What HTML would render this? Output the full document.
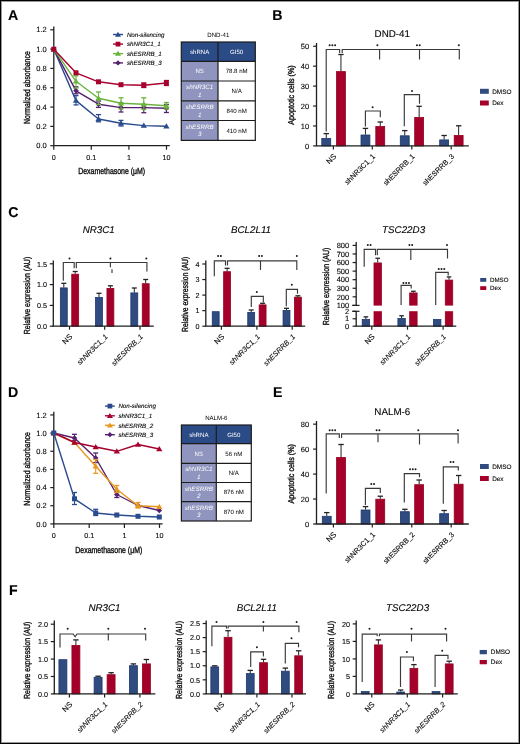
<!DOCTYPE html>
<html><head><meta charset="utf-8"><style>
html,body{margin:0;padding:0;background:#fff;width:520px;height:744px;overflow:hidden}
svg{display:block;will-change:transform}
text{font-family:"Liberation Sans", sans-serif;stroke:#1a1a1a;stroke-width:0.12px;text-rendering:geometricPrecision}
.w{stroke:none}
.at{stroke:#111;stroke-width:0.35px}
</style></head><body>
<svg width="520" height="744" viewBox="0 0 520 744">
<rect x="0" y="0" width="520" height="744" fill="#ffffff"/>
<rect x="1.5" y="1.5" width="517" height="741" fill="none" stroke="#9a9a9a" stroke-width="1"/>
<rect x="0.5" y="0.5" width="519" height="743" fill="none" stroke="#000" stroke-width="1"/>
<text x="7.9" y="19.7" font-size="14.2" font-weight="bold" fill="#000">A</text>
<text x="272.3" y="19.7" font-size="14.2" font-weight="bold" fill="#000">B</text>
<text x="8.2" y="216.8" font-size="14.2" font-weight="bold" fill="#000">C</text>
<text x="8.1" y="396.7" font-size="14.2" font-weight="bold" fill="#000">D</text>
<text x="273.1" y="396.8" font-size="14.2" font-weight="bold" fill="#000">E</text>
<text x="8.9" y="594.6" font-size="14.2" font-weight="bold" fill="#000">F</text>
<line x1="53.8" y1="26.5" x2="53.8" y2="145.7" stroke="#1e1e1e" stroke-width="1.3"/>
<line x1="50.3" y1="145.7" x2="53.8" y2="145.7" stroke="#1e1e1e" stroke-width="1.2"/>
<text x="46.8" y="148.4" font-size="7.5" text-anchor="end">0.0</text>
<line x1="50.3" y1="126.38" x2="53.8" y2="126.38" stroke="#1e1e1e" stroke-width="1.2"/>
<text x="46.8" y="129.08" font-size="7.5" text-anchor="end">0.2</text>
<line x1="50.3" y1="107.06" x2="53.8" y2="107.06" stroke="#1e1e1e" stroke-width="1.2"/>
<text x="46.8" y="109.76" font-size="7.5" text-anchor="end">0.4</text>
<line x1="50.3" y1="87.74" x2="53.8" y2="87.74" stroke="#1e1e1e" stroke-width="1.2"/>
<text x="46.8" y="90.44" font-size="7.5" text-anchor="end">0.6</text>
<line x1="50.3" y1="68.42" x2="53.8" y2="68.42" stroke="#1e1e1e" stroke-width="1.2"/>
<text x="46.8" y="71.12" font-size="7.5" text-anchor="end">0.8</text>
<line x1="50.3" y1="49.1" x2="53.8" y2="49.1" stroke="#1e1e1e" stroke-width="1.2"/>
<text x="46.8" y="51.8" font-size="7.5" text-anchor="end">1.0</text>
<line x1="50.3" y1="29.78" x2="53.8" y2="29.78" stroke="#1e1e1e" stroke-width="1.2"/>
<text x="46.8" y="32.48" font-size="7.5" text-anchor="end">1.2</text>
<line x1="53.2" y1="145.7" x2="169.8" y2="145.7" stroke="#1e1e1e" stroke-width="1.3"/>
<line x1="53.8" y1="145.7" x2="53.8" y2="149.7" stroke="#1e1e1e" stroke-width="1.2"/>
<line x1="91.3" y1="145.7" x2="91.3" y2="149.7" stroke="#1e1e1e" stroke-width="1.2"/>
<line x1="128.9" y1="145.7" x2="128.9" y2="149.7" stroke="#1e1e1e" stroke-width="1.2"/>
<line x1="166.5" y1="145.7" x2="166.5" y2="149.7" stroke="#1e1e1e" stroke-width="1.2"/>
<text x="53.8" y="159.6" font-size="7.2" text-anchor="middle">0</text>
<text x="91.3" y="159.6" font-size="7.2" text-anchor="middle">0.1</text>
<text x="128.9" y="159.6" font-size="7.2" text-anchor="middle">1</text>
<text x="166.5" y="159.6" font-size="7.2" text-anchor="middle">10</text>
<text x="111.7" y="174.4" font-size="8.9" text-anchor="middle" textLength="67" lengthAdjust="spacingAndGlyphs" class="at">Dexamethasone (μM)</text>
<text x="29.9" y="87.6" font-size="8.9" text-anchor="middle" transform="rotate(-90 29.9 87.6)" textLength="72.6" lengthAdjust="spacingAndGlyphs" class="at">Normalized absorbance</text>
<polyline points="53.8,49.2 76,100.6 98.5,119 121,123.2 143.8,125.6 166.4,126.2" fill="none" stroke="#2a4b8e" stroke-width="1.4" stroke-linejoin="round"/>
<line x1="76" y1="95.6" x2="76" y2="104.9" stroke="#2a4b8e" stroke-width="1.1"/>
<line x1="73.5" y1="95.6" x2="78.5" y2="95.6" stroke="#2a4b8e" stroke-width="1.3"/>
<line x1="73.5" y1="104.9" x2="78.5" y2="104.9" stroke="#2a4b8e" stroke-width="1.3"/>
<line x1="98.5" y1="114.6" x2="98.5" y2="121.8" stroke="#2a4b8e" stroke-width="1.1"/>
<line x1="96" y1="114.6" x2="101" y2="114.6" stroke="#2a4b8e" stroke-width="1.3"/>
<line x1="96" y1="121.8" x2="101" y2="121.8" stroke="#2a4b8e" stroke-width="1.3"/>
<line x1="121" y1="120.4" x2="121" y2="126" stroke="#2a4b8e" stroke-width="1.1"/>
<line x1="118.5" y1="120.4" x2="123.5" y2="120.4" stroke="#2a4b8e" stroke-width="1.3"/>
<line x1="118.5" y1="126" x2="123.5" y2="126" stroke="#2a4b8e" stroke-width="1.3"/>
<polygon points="53.8,46.2 50.65,51.45 56.95,51.45" fill="#2a4b8e"/>
<polygon points="76,97.6 72.85,102.85 79.15,102.85" fill="#2a4b8e"/>
<polygon points="98.5,116 95.35,121.25 101.65,121.25" fill="#2a4b8e"/>
<polygon points="121,120.2 117.85,125.45 124.15,125.45" fill="#2a4b8e"/>
<polygon points="143.8,122.6 140.65,127.85 146.95,127.85" fill="#2a4b8e"/>
<polygon points="166.4,123.2 163.25,128.45 169.55,128.45" fill="#2a4b8e"/>
<polyline points="53.8,49.2 76,90.8 98.5,104.2 121,107.6 143.8,107.6 166.4,108.2" fill="none" stroke="#55206e" stroke-width="1.4" stroke-linejoin="round"/>
<line x1="76" y1="86.8" x2="76" y2="93.8" stroke="#55206e" stroke-width="1.1"/>
<line x1="73.5" y1="86.8" x2="78.5" y2="86.8" stroke="#55206e" stroke-width="1.3"/>
<line x1="73.5" y1="93.8" x2="78.5" y2="93.8" stroke="#55206e" stroke-width="1.3"/>
<line x1="98.5" y1="101" x2="98.5" y2="107.4" stroke="#55206e" stroke-width="1.1"/>
<line x1="96" y1="101" x2="101" y2="101" stroke="#55206e" stroke-width="1.3"/>
<line x1="96" y1="107.4" x2="101" y2="107.4" stroke="#55206e" stroke-width="1.3"/>
<line x1="121" y1="103" x2="121" y2="112" stroke="#55206e" stroke-width="1.1"/>
<line x1="118.5" y1="103" x2="123.5" y2="103" stroke="#55206e" stroke-width="1.3"/>
<line x1="118.5" y1="112" x2="123.5" y2="112" stroke="#55206e" stroke-width="1.3"/>
<line x1="143.8" y1="104.5" x2="143.8" y2="112.7" stroke="#55206e" stroke-width="1.1"/>
<line x1="141.3" y1="104.5" x2="146.3" y2="104.5" stroke="#55206e" stroke-width="1.3"/>
<line x1="141.3" y1="112.7" x2="146.3" y2="112.7" stroke="#55206e" stroke-width="1.3"/>
<line x1="166.4" y1="104.5" x2="166.4" y2="112.5" stroke="#55206e" stroke-width="1.1"/>
<line x1="163.9" y1="104.5" x2="168.9" y2="104.5" stroke="#55206e" stroke-width="1.3"/>
<line x1="163.9" y1="112.5" x2="168.9" y2="112.5" stroke="#55206e" stroke-width="1.3"/>
<polygon points="53.8,46.4 56.6,49.2 53.8,52 51,49.2" fill="#55206e"/>
<polygon points="76,88 78.8,90.8 76,93.6 73.2,90.8" fill="#55206e"/>
<polygon points="98.5,101.4 101.3,104.2 98.5,107 95.7,104.2" fill="#55206e"/>
<polygon points="121,104.8 123.8,107.6 121,110.4 118.2,107.6" fill="#55206e"/>
<polygon points="143.8,104.8 146.6,107.6 143.8,110.4 141,107.6" fill="#55206e"/>
<polygon points="166.4,105.4 169.2,108.2 166.4,111 163.6,108.2" fill="#55206e"/>
<polyline points="53.8,49.2 76,81.3 98.5,98.3 121,103.2 143.8,104.2 166.4,105.8" fill="none" stroke="#6ab43e" stroke-width="1.4" stroke-linejoin="round"/>
<line x1="76" y1="75.8" x2="76" y2="88" stroke="#6ab43e" stroke-width="1.1"/>
<line x1="73.5" y1="75.8" x2="78.5" y2="75.8" stroke="#6ab43e" stroke-width="1.3"/>
<line x1="73.5" y1="88" x2="78.5" y2="88" stroke="#6ab43e" stroke-width="1.3"/>
<line x1="98.5" y1="92" x2="98.5" y2="104.5" stroke="#6ab43e" stroke-width="1.1"/>
<line x1="96" y1="92" x2="101" y2="92" stroke="#6ab43e" stroke-width="1.3"/>
<line x1="96" y1="104.5" x2="101" y2="104.5" stroke="#6ab43e" stroke-width="1.3"/>
<line x1="121" y1="97.8" x2="121" y2="109" stroke="#6ab43e" stroke-width="1.1"/>
<line x1="118.5" y1="97.8" x2="123.5" y2="97.8" stroke="#6ab43e" stroke-width="1.3"/>
<line x1="118.5" y1="109" x2="123.5" y2="109" stroke="#6ab43e" stroke-width="1.3"/>
<line x1="143.8" y1="97.8" x2="143.8" y2="109.5" stroke="#6ab43e" stroke-width="1.1"/>
<line x1="141.3" y1="97.8" x2="146.3" y2="97.8" stroke="#6ab43e" stroke-width="1.3"/>
<line x1="141.3" y1="109.5" x2="146.3" y2="109.5" stroke="#6ab43e" stroke-width="1.3"/>
<line x1="166.4" y1="102.5" x2="166.4" y2="109" stroke="#6ab43e" stroke-width="1.1"/>
<line x1="163.9" y1="102.5" x2="168.9" y2="102.5" stroke="#6ab43e" stroke-width="1.3"/>
<line x1="163.9" y1="109" x2="168.9" y2="109" stroke="#6ab43e" stroke-width="1.3"/>
<polygon points="53.8,46.2 50.65,51.45 56.95,51.45" fill="#6ab43e"/>
<polygon points="76,78.3 72.85,83.55 79.15,83.55" fill="#6ab43e"/>
<polygon points="98.5,95.3 95.35,100.55 101.65,100.55" fill="#6ab43e"/>
<polygon points="121,100.2 117.85,105.45 124.15,105.45" fill="#6ab43e"/>
<polygon points="143.8,101.2 140.65,106.45 146.95,106.45" fill="#6ab43e"/>
<polygon points="166.4,102.8 163.25,108.05 169.55,108.05" fill="#6ab43e"/>
<polyline points="53.8,49.2 76,72.8 98.5,81.8 121,84.7 143.8,85.2 166.4,83" fill="none" stroke="#a8002f" stroke-width="1.4" stroke-linejoin="round"/>
<line x1="143.8" y1="83" x2="143.8" y2="87.5" stroke="#a8002f" stroke-width="1.1"/>
<line x1="141.3" y1="83" x2="146.3" y2="83" stroke="#a8002f" stroke-width="1.3"/>
<line x1="141.3" y1="87.5" x2="146.3" y2="87.5" stroke="#a8002f" stroke-width="1.3"/>
<line x1="166.4" y1="80.5" x2="166.4" y2="85.5" stroke="#a8002f" stroke-width="1.1"/>
<line x1="163.9" y1="80.5" x2="168.9" y2="80.5" stroke="#a8002f" stroke-width="1.3"/>
<line x1="163.9" y1="85.5" x2="168.9" y2="85.5" stroke="#a8002f" stroke-width="1.3"/>
<rect x="51.3" y="46.7" width="5" height="5" fill="#a8002f"/>
<rect x="73.5" y="70.3" width="5" height="5" fill="#a8002f"/>
<rect x="96" y="79.3" width="5" height="5" fill="#a8002f"/>
<rect x="118.5" y="82.2" width="5" height="5" fill="#a8002f"/>
<rect x="141.3" y="82.7" width="5" height="5" fill="#a8002f"/>
<rect x="163.9" y="80.5" width="5" height="5" fill="#a8002f"/>
<line x1="113" y1="34.5" x2="123" y2="34.5" stroke="#2a4b8e" stroke-width="1.4"/>
<polygon points="118,31.65 115.01,36.64 120.99,36.64" fill="#2a4b8e"/>
<text x="126.9" y="36.7" font-size="6.2" font-style="italic">Non-silencing</text>
<line x1="113" y1="44.1" x2="123" y2="44.1" stroke="#a8002f" stroke-width="1.4"/>
<rect x="115.62" y="41.73" width="4.75" height="4.75" fill="#a8002f"/>
<text x="126.9" y="46.3" font-size="6.2" font-style="italic">shNR3C1_1</text>
<line x1="113" y1="53.6" x2="123" y2="53.6" stroke="#6ab43e" stroke-width="1.4"/>
<polygon points="118,50.75 115.01,55.74 120.99,55.74" fill="#6ab43e"/>
<text x="126.9" y="55.8" font-size="6.2" font-style="italic">shESRRB_1</text>
<line x1="113" y1="62.9" x2="123" y2="62.9" stroke="#55206e" stroke-width="1.4"/>
<polygon points="118,60.24 120.66,62.9 118,65.56 115.34,62.9" fill="#55206e"/>
<text x="126.9" y="65.1" font-size="6.2" font-style="italic">shESRRB_3</text>
<rect x="181.3" y="42" width="74" height="19.3" fill="#2b4b86"/>
<rect x="181.3" y="61.3" width="36.7" height="19.7" fill="#8f95be"/>
<rect x="181.3" y="81" width="36.7" height="19.8" fill="#8f95be"/>
<rect x="181.3" y="100.8" width="36.7" height="19.7" fill="#8f95be"/>
<rect x="181.3" y="120.5" width="36.7" height="19.9" fill="#8f95be"/>
<rect x="181.3" y="42" width="74" height="98.4" fill="none" stroke="#1c1c1c" stroke-width="1.2"/>
<line x1="218" y1="42" x2="218" y2="140.4" stroke="#1c1c1c" stroke-width="1.2"/>
<line x1="181.3" y1="61.3" x2="255.3" y2="61.3" stroke="#1c1c1c" stroke-width="1.2"/>
<line x1="181.3" y1="81" x2="255.3" y2="81" stroke="#1c1c1c" stroke-width="1.2"/>
<line x1="181.3" y1="100.8" x2="255.3" y2="100.8" stroke="#1c1c1c" stroke-width="1.2"/>
<line x1="181.3" y1="120.5" x2="255.3" y2="120.5" stroke="#1c1c1c" stroke-width="1.2"/>
<text x="218.3" y="37.1" font-size="6.1" text-anchor="middle" class="w">DND-41</text>
<text x="199.65" y="53.8" font-size="6.1" text-anchor="middle" fill="#ffffff" class="w">shRNA</text>
<text x="236.65" y="53.8" font-size="6.1" text-anchor="middle" fill="#ffffff" class="w">GI50</text>
<text x="199.65" y="73.3" font-size="6.1" text-anchor="middle" fill="#ffffff" class="w">NS</text>
<text x="236.65" y="73.3" font-size="6.1" text-anchor="middle" class="w">78.8 nM</text>
<text x="199.65" y="89.35" font-size="6.3" text-anchor="middle" font-style="italic" fill="#ffffff" class="w">shNR3C1</text>
<text x="199.65" y="96.85" font-size="6.3" text-anchor="middle" font-style="italic" fill="#ffffff" class="w">1</text>
<text x="236.65" y="93.05" font-size="6.1" text-anchor="middle" class="w">N/A</text>
<text x="199.65" y="109.1" font-size="6.3" text-anchor="middle" font-style="italic" fill="#ffffff" class="w">shESRRB</text>
<text x="199.65" y="116.6" font-size="6.3" text-anchor="middle" font-style="italic" fill="#ffffff" class="w">1</text>
<text x="236.65" y="112.8" font-size="6.1" text-anchor="middle" class="w">840 nM</text>
<text x="199.65" y="128.9" font-size="6.3" text-anchor="middle" font-style="italic" fill="#ffffff" class="w">shESRRB</text>
<text x="199.65" y="136.4" font-size="6.3" text-anchor="middle" font-style="italic" fill="#ffffff" class="w">3</text>
<text x="236.65" y="132.6" font-size="6.1" text-anchor="middle" class="w">410 nM</text>
<line x1="53.8" y1="411.7" x2="53.8" y2="523.9" stroke="#1e1e1e" stroke-width="1.3"/>
<line x1="50.3" y1="523.9" x2="53.8" y2="523.9" stroke="#1e1e1e" stroke-width="1.2"/>
<text x="46.8" y="526.6" font-size="7.5" text-anchor="end">0.0</text>
<line x1="50.3" y1="505.74" x2="53.8" y2="505.74" stroke="#1e1e1e" stroke-width="1.2"/>
<text x="46.8" y="508.44" font-size="7.5" text-anchor="end">0.2</text>
<line x1="50.3" y1="487.58" x2="53.8" y2="487.58" stroke="#1e1e1e" stroke-width="1.2"/>
<text x="46.8" y="490.28" font-size="7.5" text-anchor="end">0.4</text>
<line x1="50.3" y1="469.42" x2="53.8" y2="469.42" stroke="#1e1e1e" stroke-width="1.2"/>
<text x="46.8" y="472.12" font-size="7.5" text-anchor="end">0.6</text>
<line x1="50.3" y1="451.26" x2="53.8" y2="451.26" stroke="#1e1e1e" stroke-width="1.2"/>
<text x="46.8" y="453.96" font-size="7.5" text-anchor="end">0.8</text>
<line x1="50.3" y1="433.1" x2="53.8" y2="433.1" stroke="#1e1e1e" stroke-width="1.2"/>
<text x="46.8" y="435.8" font-size="7.5" text-anchor="end">1.0</text>
<line x1="50.3" y1="414.94" x2="53.8" y2="414.94" stroke="#1e1e1e" stroke-width="1.2"/>
<text x="46.8" y="417.64" font-size="7.5" text-anchor="end">1.2</text>
<line x1="53.2" y1="523.9" x2="162.6" y2="523.9" stroke="#1e1e1e" stroke-width="1.3"/>
<line x1="53.8" y1="523.9" x2="53.8" y2="527.9" stroke="#1e1e1e" stroke-width="1.2"/>
<line x1="89.2" y1="523.9" x2="89.2" y2="527.9" stroke="#1e1e1e" stroke-width="1.2"/>
<line x1="124.4" y1="523.9" x2="124.4" y2="527.9" stroke="#1e1e1e" stroke-width="1.2"/>
<line x1="159.5" y1="523.9" x2="159.5" y2="527.9" stroke="#1e1e1e" stroke-width="1.2"/>
<text x="53.8" y="537.8" font-size="7.2" text-anchor="middle">0</text>
<text x="89.2" y="537.8" font-size="7.2" text-anchor="middle">0.1</text>
<text x="124.4" y="537.8" font-size="7.2" text-anchor="middle">1</text>
<text x="159.5" y="537.8" font-size="7.2" text-anchor="middle">10</text>
<text x="108.8" y="552.6" font-size="8.9" text-anchor="middle" textLength="66.9" lengthAdjust="spacingAndGlyphs" class="at">Dexamethasone (μM)</text>
<text x="29.9" y="468.9" font-size="8.9" text-anchor="middle" transform="rotate(-90 29.9 468.9)" textLength="73.5" lengthAdjust="spacingAndGlyphs" class="at">Normalized absorbance</text>
<polyline points="53.8,433 74.5,438 95.7,458 116.8,494.5 138,505.5 159.3,510.5" fill="none" stroke="#55206e" stroke-width="1.4" stroke-linejoin="round"/>
<line x1="74.5" y1="434.3" x2="74.5" y2="440.5" stroke="#55206e" stroke-width="1.1"/>
<line x1="72" y1="434.3" x2="77" y2="434.3" stroke="#55206e" stroke-width="1.3"/>
<line x1="72" y1="440.5" x2="77" y2="440.5" stroke="#55206e" stroke-width="1.3"/>
<line x1="95.7" y1="453" x2="95.7" y2="462.5" stroke="#55206e" stroke-width="1.1"/>
<line x1="93.2" y1="453" x2="98.2" y2="453" stroke="#55206e" stroke-width="1.3"/>
<line x1="93.2" y1="462.5" x2="98.2" y2="462.5" stroke="#55206e" stroke-width="1.3"/>
<line x1="116.8" y1="492" x2="116.8" y2="497.5" stroke="#55206e" stroke-width="1.1"/>
<line x1="114.3" y1="492" x2="119.3" y2="492" stroke="#55206e" stroke-width="1.3"/>
<line x1="114.3" y1="497.5" x2="119.3" y2="497.5" stroke="#55206e" stroke-width="1.3"/>
<polygon points="53.8,430.2 56.6,433 53.8,435.8 51,433" fill="#55206e"/>
<polygon points="74.5,435.2 77.3,438 74.5,440.8 71.7,438" fill="#55206e"/>
<polygon points="95.7,455.2 98.5,458 95.7,460.8 92.9,458" fill="#55206e"/>
<polygon points="116.8,491.7 119.6,494.5 116.8,497.3 114,494.5" fill="#55206e"/>
<polygon points="138,502.7 140.8,505.5 138,508.3 135.2,505.5" fill="#55206e"/>
<polygon points="159.3,507.7 162.1,510.5 159.3,513.3 156.5,510.5" fill="#55206e"/>
<polyline points="53.8,433 74.5,442.5 95.7,466.3 116.8,489.2 138,505.7 159.3,506.7" fill="none" stroke="#e8971e" stroke-width="1.4" stroke-linejoin="round"/>
<line x1="95.7" y1="459.5" x2="95.7" y2="473.3" stroke="#e8971e" stroke-width="1.1"/>
<line x1="93.2" y1="459.5" x2="98.2" y2="459.5" stroke="#e8971e" stroke-width="1.3"/>
<line x1="93.2" y1="473.3" x2="98.2" y2="473.3" stroke="#e8971e" stroke-width="1.3"/>
<line x1="116.8" y1="485.5" x2="116.8" y2="492.5" stroke="#e8971e" stroke-width="1.1"/>
<line x1="114.3" y1="485.5" x2="119.3" y2="485.5" stroke="#e8971e" stroke-width="1.3"/>
<line x1="114.3" y1="492.5" x2="119.3" y2="492.5" stroke="#e8971e" stroke-width="1.3"/>
<line x1="138" y1="502.5" x2="138" y2="508" stroke="#e8971e" stroke-width="1.1"/>
<line x1="135.5" y1="502.5" x2="140.5" y2="502.5" stroke="#e8971e" stroke-width="1.3"/>
<line x1="135.5" y1="508" x2="140.5" y2="508" stroke="#e8971e" stroke-width="1.3"/>
<polygon points="53.8,430 50.65,435.25 56.95,435.25" fill="#e8971e"/>
<polygon points="74.5,439.5 71.35,444.75 77.65,444.75" fill="#e8971e"/>
<polygon points="95.7,463.3 92.55,468.55 98.85,468.55" fill="#e8971e"/>
<polygon points="116.8,486.2 113.65,491.45 119.95,491.45" fill="#e8971e"/>
<polygon points="138,502.7 134.85,507.95 141.15,507.95" fill="#e8971e"/>
<polygon points="159.3,503.7 156.15,508.95 162.45,508.95" fill="#e8971e"/>
<polyline points="53.8,433 74.5,442.5 95.7,447 116.8,451.3 138,444.5 159.3,449" fill="none" stroke="#a8002f" stroke-width="1.4" stroke-linejoin="round"/>
<polygon points="53.8,430 50.65,435.25 56.95,435.25" fill="#a8002f"/>
<polygon points="74.5,439.5 71.35,444.75 77.65,444.75" fill="#a8002f"/>
<polygon points="95.7,444 92.55,449.25 98.85,449.25" fill="#a8002f"/>
<polygon points="116.8,448.3 113.65,453.55 119.95,453.55" fill="#a8002f"/>
<polygon points="138,441.5 134.85,446.75 141.15,446.75" fill="#a8002f"/>
<polygon points="159.3,446 156.15,451.25 162.45,451.25" fill="#a8002f"/>
<polyline points="53.8,433 74.5,498.8 95.7,513 116.8,515 138,516.3 159.3,517" fill="none" stroke="#2a4b8e" stroke-width="1.4" stroke-linejoin="round"/>
<line x1="74.5" y1="492.5" x2="74.5" y2="504.5" stroke="#2a4b8e" stroke-width="1.1"/>
<line x1="72" y1="492.5" x2="77" y2="492.5" stroke="#2a4b8e" stroke-width="1.3"/>
<line x1="72" y1="504.5" x2="77" y2="504.5" stroke="#2a4b8e" stroke-width="1.3"/>
<line x1="95.7" y1="509.3" x2="95.7" y2="515.5" stroke="#2a4b8e" stroke-width="1.1"/>
<line x1="93.2" y1="509.3" x2="98.2" y2="509.3" stroke="#2a4b8e" stroke-width="1.3"/>
<line x1="93.2" y1="515.5" x2="98.2" y2="515.5" stroke="#2a4b8e" stroke-width="1.3"/>
<rect x="51.3" y="430.5" width="5" height="5" fill="#2a4b8e"/>
<rect x="72" y="496.3" width="5" height="5" fill="#2a4b8e"/>
<rect x="93.2" y="510.5" width="5" height="5" fill="#2a4b8e"/>
<rect x="114.3" y="512.5" width="5" height="5" fill="#2a4b8e"/>
<rect x="135.5" y="513.8" width="5" height="5" fill="#2a4b8e"/>
<rect x="156.8" y="514.5" width="5" height="5" fill="#2a4b8e"/>
<line x1="105" y1="406.1" x2="114.8" y2="406.1" stroke="#2a4b8e" stroke-width="1.4"/>
<rect x="107.53" y="403.73" width="4.75" height="4.75" fill="#2a4b8e"/>
<text x="118.4" y="408.3" font-size="6.2" font-style="italic">Non-silencing</text>
<line x1="105" y1="415.8" x2="114.8" y2="415.8" stroke="#a8002f" stroke-width="1.4"/>
<polygon points="109.9,412.95 106.91,417.94 112.89,417.94" fill="#a8002f"/>
<text x="118.4" y="418" font-size="6.2" font-style="italic">shNR3C1_1</text>
<line x1="105" y1="425.3" x2="114.8" y2="425.3" stroke="#e8971e" stroke-width="1.4"/>
<polygon points="109.9,422.45 106.91,427.44 112.89,427.44" fill="#e8971e"/>
<text x="118.4" y="427.5" font-size="6.2" font-style="italic">shESRRB_2</text>
<line x1="105" y1="434.7" x2="114.8" y2="434.7" stroke="#55206e" stroke-width="1.4"/>
<polygon points="109.9,432.04 112.56,434.7 109.9,437.36 107.24,434.7" fill="#55206e"/>
<text x="118.4" y="436.9" font-size="6.2" font-style="italic">shESRRB_3</text>
<rect x="181.4" y="425" width="69.9" height="18.7" fill="#2b4b86"/>
<rect x="181.4" y="443.7" width="34.9" height="19.6" fill="#8f95be"/>
<rect x="181.4" y="463.3" width="34.9" height="19.2" fill="#8f95be"/>
<rect x="181.4" y="482.5" width="34.9" height="19.2" fill="#8f95be"/>
<rect x="181.4" y="501.7" width="34.9" height="19.3" fill="#8f95be"/>
<rect x="181.4" y="425" width="69.9" height="96" fill="none" stroke="#1c1c1c" stroke-width="1.2"/>
<line x1="216.3" y1="425" x2="216.3" y2="521" stroke="#1c1c1c" stroke-width="1.2"/>
<line x1="181.4" y1="443.7" x2="251.3" y2="443.7" stroke="#1c1c1c" stroke-width="1.2"/>
<line x1="181.4" y1="463.3" x2="251.3" y2="463.3" stroke="#1c1c1c" stroke-width="1.2"/>
<line x1="181.4" y1="482.5" x2="251.3" y2="482.5" stroke="#1c1c1c" stroke-width="1.2"/>
<line x1="181.4" y1="501.7" x2="251.3" y2="501.7" stroke="#1c1c1c" stroke-width="1.2"/>
<text x="216.35" y="419.7" font-size="6.1" text-anchor="middle" class="w">NALM-6</text>
<text x="198.85" y="436.5" font-size="6.1" text-anchor="middle" fill="#ffffff" class="w">shRNA</text>
<text x="233.8" y="436.5" font-size="6.1" text-anchor="middle" fill="#ffffff" class="w">GI50</text>
<text x="198.85" y="455.65" font-size="6.1" text-anchor="middle" fill="#ffffff" class="w">NS</text>
<text x="233.8" y="455.65" font-size="6.1" text-anchor="middle" class="w">56 nM</text>
<text x="198.85" y="471.35" font-size="6.3" text-anchor="middle" font-style="italic" fill="#ffffff" class="w">shNR3C1</text>
<text x="198.85" y="478.85" font-size="6.3" text-anchor="middle" font-style="italic" fill="#ffffff" class="w">1</text>
<text x="233.8" y="475.05" font-size="6.1" text-anchor="middle" class="w">N/A</text>
<text x="198.85" y="490.55" font-size="6.3" text-anchor="middle" font-style="italic" fill="#ffffff" class="w">shESRRB</text>
<text x="198.85" y="498.05" font-size="6.3" text-anchor="middle" font-style="italic" fill="#ffffff" class="w">2</text>
<text x="233.8" y="494.25" font-size="6.1" text-anchor="middle" class="w">876 nM</text>
<text x="198.85" y="509.8" font-size="6.3" text-anchor="middle" font-style="italic" fill="#ffffff" class="w">shESRRB</text>
<text x="198.85" y="517.3" font-size="6.3" text-anchor="middle" font-style="italic" fill="#ffffff" class="w">3</text>
<text x="233.8" y="513.5" font-size="6.1" text-anchor="middle" class="w">870 nM</text>
<rect x="321.8" y="138.5" width="8.9" height="7.4" fill="#2f4b80" stroke="#1b376e" stroke-width="0.8"/>
<line x1="326.25" y1="138.1" x2="326.25" y2="133.6" stroke="#222" stroke-width="1"/>
<line x1="323.55" y1="133.6" x2="328.95" y2="133.6" stroke="#222" stroke-width="1.3"/>
<rect x="336.5" y="71.6" width="8.9" height="74.3" fill="#a5002a" stroke="#96001f" stroke-width="0.8"/>
<line x1="340.95" y1="71.2" x2="340.95" y2="54.5" stroke="#222" stroke-width="1"/>
<line x1="338.25" y1="54.5" x2="343.65" y2="54.5" stroke="#222" stroke-width="1.3"/>
<rect x="361" y="135" width="8.9" height="10.9" fill="#2f4b80" stroke="#1b376e" stroke-width="0.8"/>
<line x1="365.45" y1="134.6" x2="365.45" y2="128.4" stroke="#222" stroke-width="1"/>
<line x1="362.75" y1="128.4" x2="368.15" y2="128.4" stroke="#222" stroke-width="1.3"/>
<rect x="375.8" y="126.4" width="8.9" height="19.5" fill="#a5002a" stroke="#96001f" stroke-width="0.8"/>
<line x1="380.25" y1="126" x2="380.25" y2="122" stroke="#222" stroke-width="1"/>
<line x1="377.55" y1="122" x2="382.95" y2="122" stroke="#222" stroke-width="1.3"/>
<rect x="400.3" y="135.8" width="8.9" height="10.1" fill="#2f4b80" stroke="#1b376e" stroke-width="0.8"/>
<line x1="404.75" y1="135.4" x2="404.75" y2="130.6" stroke="#222" stroke-width="1"/>
<line x1="402.05" y1="130.6" x2="407.45" y2="130.6" stroke="#222" stroke-width="1.3"/>
<rect x="414.7" y="117.4" width="8.9" height="28.5" fill="#a5002a" stroke="#96001f" stroke-width="0.8"/>
<line x1="419.15" y1="117" x2="419.15" y2="106.3" stroke="#222" stroke-width="1"/>
<line x1="416.45" y1="106.3" x2="421.85" y2="106.3" stroke="#222" stroke-width="1.3"/>
<rect x="439.7" y="139.9" width="8.9" height="6" fill="#2f4b80" stroke="#1b376e" stroke-width="0.8"/>
<line x1="444.15" y1="139.5" x2="444.15" y2="135.5" stroke="#222" stroke-width="1"/>
<line x1="441.45" y1="135.5" x2="446.85" y2="135.5" stroke="#222" stroke-width="1.3"/>
<rect x="454.2" y="135.4" width="8.9" height="10.5" fill="#a5002a" stroke="#96001f" stroke-width="0.8"/>
<line x1="458.65" y1="135" x2="458.65" y2="125.8" stroke="#222" stroke-width="1"/>
<line x1="455.95" y1="125.8" x2="461.35" y2="125.8" stroke="#222" stroke-width="1.3"/>
<line x1="316.5" y1="43" x2="316.5" y2="145.9" stroke="#1e1e1e" stroke-width="1.3"/>
<line x1="313.1" y1="145.9" x2="316.5" y2="145.9" stroke="#1e1e1e" stroke-width="1.2"/>
<text x="309.2" y="148.6" font-size="7.5" text-anchor="end">0</text>
<line x1="313.1" y1="125.97" x2="316.5" y2="125.97" stroke="#1e1e1e" stroke-width="1.2"/>
<text x="309.2" y="128.67" font-size="7.5" text-anchor="end">10</text>
<line x1="313.1" y1="106.04" x2="316.5" y2="106.04" stroke="#1e1e1e" stroke-width="1.2"/>
<text x="309.2" y="108.74" font-size="7.5" text-anchor="end">20</text>
<line x1="313.1" y1="86.11" x2="316.5" y2="86.11" stroke="#1e1e1e" stroke-width="1.2"/>
<text x="309.2" y="88.81" font-size="7.5" text-anchor="end">30</text>
<line x1="313.1" y1="66.18" x2="316.5" y2="66.18" stroke="#1e1e1e" stroke-width="1.2"/>
<text x="309.2" y="68.88" font-size="7.5" text-anchor="end">40</text>
<line x1="313.1" y1="46.25" x2="316.5" y2="46.25" stroke="#1e1e1e" stroke-width="1.2"/>
<text x="309.2" y="48.95" font-size="7.5" text-anchor="end">50</text>
<line x1="315.9" y1="145.9" x2="468.8" y2="145.9" stroke="#1e1e1e" stroke-width="1.3"/>
<line x1="333.4" y1="145.9" x2="333.4" y2="149.4" stroke="#1e1e1e" stroke-width="1.2"/>
<line x1="372.3" y1="145.9" x2="372.3" y2="149.4" stroke="#1e1e1e" stroke-width="1.2"/>
<line x1="411.8" y1="145.9" x2="411.8" y2="149.4" stroke="#1e1e1e" stroke-width="1.2"/>
<line x1="451.2" y1="145.9" x2="451.2" y2="149.4" stroke="#1e1e1e" stroke-width="1.2"/>
<polyline points="326.2,131.5 326.2,49.5 339.6,49.5 339.6,53" fill="none" stroke="#3a3a3a" stroke-width="1.15"/>
<polyline points="342.2,53 342.2,49.5 459.3,49.5 459.3,59.5" fill="none" stroke="#3a3a3a" stroke-width="1.15"/>
<polyline points="379.6,49.5 379.6,59.5" fill="none" stroke="#3a3a3a" stroke-width="1.15"/>
<polyline points="419.5,49.5 419.5,59.5" fill="none" stroke="#3a3a3a" stroke-width="1.15"/>
<polyline points="365.4,126.5 365.4,111 380.3,111 380.3,117.3" fill="none" stroke="#3a3a3a" stroke-width="1.15"/>
<polyline points="404.3,126.3 404.3,94.6 419.5,94.6 419.5,103.8" fill="none" stroke="#3a3a3a" stroke-width="1.15"/>
<circle cx="329.65" cy="45.3" r="1" fill="#1a1a1a"/>
<circle cx="332.4" cy="45.3" r="1" fill="#1a1a1a"/>
<circle cx="335.15" cy="45.3" r="1" fill="#1a1a1a"/>
<circle cx="377.4" cy="45.3" r="1" fill="#1a1a1a"/>
<circle cx="416.93" cy="45.3" r="1" fill="#1a1a1a"/>
<circle cx="419.68" cy="45.3" r="1" fill="#1a1a1a"/>
<circle cx="458.8" cy="45.3" r="1" fill="#1a1a1a"/>
<circle cx="372.6" cy="107.3" r="1" fill="#1a1a1a"/>
<circle cx="412" cy="90.9" r="1" fill="#1a1a1a"/>
<text x="392.3" y="36.9" font-size="9.8" text-anchor="middle">DND-41</text>
<text x="294.1" y="95" font-size="8.6" text-anchor="middle" transform="rotate(-90 294.1 95)" textLength="59.5" lengthAdjust="spacingAndGlyphs" class="at">Apoptotic cells (%)</text>
<text x="336.8" y="156.9" font-size="7.7" text-anchor="end" transform="rotate(-45 336.8 156.9)">NS</text>
<text x="375.7" y="156.9" font-size="7.3" text-anchor="end" transform="rotate(-45 375.7 156.9)">shNR3C1_1</text>
<text x="415.2" y="156.9" font-size="7.3" text-anchor="end" transform="rotate(-45 415.2 156.9)">shESRRB_1</text>
<text x="454.6" y="156.9" font-size="7.3" text-anchor="end" transform="rotate(-45 454.6 156.9)">shESRRB_3</text>
<rect x="480" y="88.8" width="8.8" height="5" fill="#2f4b80"/>
<text x="492.2" y="93.6" font-size="6.4">DMSO</text>
<rect x="480" y="100.5" width="8.8" height="5" fill="#a5002a"/>
<text x="492.2" y="105.3" font-size="6.4">Dex</text>
<rect x="322.3" y="516.3" width="8.9" height="7.7" fill="#2f4b80" stroke="#1b376e" stroke-width="0.8"/>
<line x1="326.75" y1="515.9" x2="326.75" y2="512.6" stroke="#222" stroke-width="1"/>
<line x1="324.05" y1="512.6" x2="329.45" y2="512.6" stroke="#222" stroke-width="1.3"/>
<rect x="336.6" y="457.4" width="8.9" height="66.6" fill="#a5002a" stroke="#96001f" stroke-width="0.8"/>
<line x1="341.05" y1="457" x2="341.05" y2="444.5" stroke="#222" stroke-width="1"/>
<line x1="338.35" y1="444.5" x2="343.75" y2="444.5" stroke="#222" stroke-width="1.3"/>
<rect x="361.1" y="510" width="8.9" height="14" fill="#2f4b80" stroke="#1b376e" stroke-width="0.8"/>
<line x1="365.55" y1="509.6" x2="365.55" y2="506.6" stroke="#222" stroke-width="1"/>
<line x1="362.85" y1="506.6" x2="368.25" y2="506.6" stroke="#222" stroke-width="1.3"/>
<rect x="375.8" y="499.2" width="8.9" height="24.8" fill="#a5002a" stroke="#96001f" stroke-width="0.8"/>
<line x1="380.25" y1="498.8" x2="380.25" y2="496.2" stroke="#222" stroke-width="1"/>
<line x1="377.55" y1="496.2" x2="382.95" y2="496.2" stroke="#222" stroke-width="1.3"/>
<rect x="400.4" y="511.7" width="8.9" height="12.3" fill="#2f4b80" stroke="#1b376e" stroke-width="0.8"/>
<line x1="404.85" y1="511.3" x2="404.85" y2="509.3" stroke="#222" stroke-width="1"/>
<line x1="402.15" y1="509.3" x2="407.55" y2="509.3" stroke="#222" stroke-width="1.3"/>
<rect x="414.7" y="484.7" width="8.9" height="39.3" fill="#a5002a" stroke="#96001f" stroke-width="0.8"/>
<line x1="419.15" y1="484.3" x2="419.15" y2="480" stroke="#222" stroke-width="1"/>
<line x1="416.45" y1="480" x2="421.85" y2="480" stroke="#222" stroke-width="1.3"/>
<rect x="439.7" y="513.7" width="8.9" height="10.3" fill="#2f4b80" stroke="#1b376e" stroke-width="0.8"/>
<line x1="444.15" y1="513.3" x2="444.15" y2="510.5" stroke="#222" stroke-width="1"/>
<line x1="441.45" y1="510.5" x2="446.85" y2="510.5" stroke="#222" stroke-width="1.3"/>
<rect x="454.2" y="484.2" width="8.9" height="39.8" fill="#a5002a" stroke="#96001f" stroke-width="0.8"/>
<line x1="458.65" y1="483.8" x2="458.65" y2="475.5" stroke="#222" stroke-width="1"/>
<line x1="455.95" y1="475.5" x2="461.35" y2="475.5" stroke="#222" stroke-width="1.3"/>
<line x1="316.5" y1="421" x2="316.5" y2="524" stroke="#1e1e1e" stroke-width="1.3"/>
<line x1="313.1" y1="524" x2="316.5" y2="524" stroke="#1e1e1e" stroke-width="1.2"/>
<text x="309.2" y="526.7" font-size="7.5" text-anchor="end">0</text>
<line x1="313.1" y1="499.04" x2="316.5" y2="499.04" stroke="#1e1e1e" stroke-width="1.2"/>
<text x="309.2" y="501.74" font-size="7.5" text-anchor="end">20</text>
<line x1="313.1" y1="474.08" x2="316.5" y2="474.08" stroke="#1e1e1e" stroke-width="1.2"/>
<text x="309.2" y="476.78" font-size="7.5" text-anchor="end">40</text>
<line x1="313.1" y1="449.12" x2="316.5" y2="449.12" stroke="#1e1e1e" stroke-width="1.2"/>
<text x="309.2" y="451.82" font-size="7.5" text-anchor="end">60</text>
<line x1="313.1" y1="424.16" x2="316.5" y2="424.16" stroke="#1e1e1e" stroke-width="1.2"/>
<text x="309.2" y="426.86" font-size="7.5" text-anchor="end">80</text>
<line x1="315.9" y1="524" x2="468.8" y2="524" stroke="#1e1e1e" stroke-width="1.3"/>
<line x1="333.4" y1="524" x2="333.4" y2="527.5" stroke="#1e1e1e" stroke-width="1.2"/>
<line x1="372.3" y1="524" x2="372.3" y2="527.5" stroke="#1e1e1e" stroke-width="1.2"/>
<line x1="411.8" y1="524" x2="411.8" y2="527.5" stroke="#1e1e1e" stroke-width="1.2"/>
<line x1="451.2" y1="524" x2="451.2" y2="527.5" stroke="#1e1e1e" stroke-width="1.2"/>
<polyline points="326.2,493.5 326.2,433.9 339.3,433.9 339.3,438.1" fill="none" stroke="#3a3a3a" stroke-width="1.15"/>
<polyline points="341.6,438.1 341.6,433.9 458.1,433.9 458.1,443.5" fill="none" stroke="#3a3a3a" stroke-width="1.15"/>
<polyline points="378,433.9 378,442.3" fill="none" stroke="#3a3a3a" stroke-width="1.15"/>
<polyline points="419.5,433.9 419.5,444.5" fill="none" stroke="#3a3a3a" stroke-width="1.15"/>
<polyline points="365.4,505 365.4,488.4 380.3,488.4 380.3,493" fill="none" stroke="#3a3a3a" stroke-width="1.15"/>
<polyline points="404.3,502.6 404.3,473.6 419.5,473.6 419.5,477.2" fill="none" stroke="#3a3a3a" stroke-width="1.15"/>
<polyline points="443.3,503.8 443.3,466.8 458.3,466.8 458.3,470.5" fill="none" stroke="#3a3a3a" stroke-width="1.15"/>
<circle cx="329.65" cy="430.3" r="1" fill="#1a1a1a"/>
<circle cx="332.4" cy="430.3" r="1" fill="#1a1a1a"/>
<circle cx="335.15" cy="430.3" r="1" fill="#1a1a1a"/>
<circle cx="376.62" cy="430.3" r="1" fill="#1a1a1a"/>
<circle cx="379.38" cy="430.3" r="1" fill="#1a1a1a"/>
<circle cx="418.3" cy="430.3" r="1" fill="#1a1a1a"/>
<circle cx="458" cy="430.3" r="1" fill="#1a1a1a"/>
<circle cx="371.32" cy="483.9" r="1" fill="#1a1a1a"/>
<circle cx="374.07" cy="483.9" r="1" fill="#1a1a1a"/>
<circle cx="410.05" cy="469.3" r="1" fill="#1a1a1a"/>
<circle cx="412.8" cy="469.3" r="1" fill="#1a1a1a"/>
<circle cx="415.55" cy="469.3" r="1" fill="#1a1a1a"/>
<circle cx="450.62" cy="462.1" r="1" fill="#1a1a1a"/>
<circle cx="453.38" cy="462.1" r="1" fill="#1a1a1a"/>
<text x="392.3" y="415" font-size="9.8" text-anchor="middle">NALM-6</text>
<text x="294.1" y="473.8" font-size="8.6" text-anchor="middle" transform="rotate(-90 294.1 473.8)" textLength="59.5" lengthAdjust="spacingAndGlyphs" class="at">Apoptotic cells (%)</text>
<text x="336.8" y="535" font-size="7.7" text-anchor="end" transform="rotate(-45 336.8 535)">NS</text>
<text x="375.7" y="535" font-size="7.3" text-anchor="end" transform="rotate(-45 375.7 535)">shNR3C1_1</text>
<text x="415.2" y="535" font-size="7.3" text-anchor="end" transform="rotate(-45 415.2 535)">shESRRB_2</text>
<text x="454.6" y="535" font-size="7.3" text-anchor="end" transform="rotate(-45 454.6 535)">shESRRB_3</text>
<rect x="480" y="464" width="8.8" height="5" fill="#2f4b80"/>
<text x="492.2" y="468.8" font-size="6.4">DMSO</text>
<rect x="480" y="476" width="8.8" height="5" fill="#a5002a"/>
<text x="492.2" y="480.8" font-size="6.4">Dex</text>
<rect x="60.35" y="287.9" width="6.9" height="38.3" fill="#2f4b80" stroke="#1b376e" stroke-width="0.8"/>
<line x1="63.8" y1="287.5" x2="63.8" y2="283.3" stroke="#222" stroke-width="1"/>
<line x1="61.3" y1="283.3" x2="66.3" y2="283.3" stroke="#222" stroke-width="1.3"/>
<rect x="71.75" y="274.2" width="6.9" height="52" fill="#a5002a" stroke="#96001f" stroke-width="0.8"/>
<line x1="75.2" y1="273.8" x2="75.2" y2="271.5" stroke="#222" stroke-width="1"/>
<line x1="72.7" y1="271.5" x2="77.7" y2="271.5" stroke="#222" stroke-width="1.3"/>
<rect x="95.55" y="297.4" width="6.9" height="28.8" fill="#2f4b80" stroke="#1b376e" stroke-width="0.8"/>
<line x1="99" y1="297" x2="99" y2="293.3" stroke="#222" stroke-width="1"/>
<line x1="96.5" y1="293.3" x2="101.5" y2="293.3" stroke="#222" stroke-width="1.3"/>
<rect x="106.95" y="288.4" width="6.9" height="37.8" fill="#a5002a" stroke="#96001f" stroke-width="0.8"/>
<line x1="110.4" y1="288" x2="110.4" y2="285.8" stroke="#222" stroke-width="1"/>
<line x1="107.9" y1="285.8" x2="112.9" y2="285.8" stroke="#222" stroke-width="1.3"/>
<rect x="130.85" y="292.9" width="6.9" height="33.3" fill="#2f4b80" stroke="#1b376e" stroke-width="0.8"/>
<line x1="134.3" y1="292.5" x2="134.3" y2="288" stroke="#222" stroke-width="1"/>
<line x1="131.8" y1="288" x2="136.8" y2="288" stroke="#222" stroke-width="1.3"/>
<rect x="142.25" y="283.7" width="6.9" height="42.5" fill="#a5002a" stroke="#96001f" stroke-width="0.8"/>
<line x1="145.7" y1="283.3" x2="145.7" y2="279.5" stroke="#222" stroke-width="1"/>
<line x1="143.2" y1="279.5" x2="148.2" y2="279.5" stroke="#222" stroke-width="1.3"/>
<line x1="53.3" y1="260.5" x2="53.3" y2="326.2" stroke="#1e1e1e" stroke-width="1.3"/>
<line x1="49.8" y1="326.2" x2="53.3" y2="326.2" stroke="#1e1e1e" stroke-width="1.2"/>
<text x="47.1" y="328.9" font-size="7.2" text-anchor="end">0.0</text>
<line x1="49.8" y1="305.4" x2="53.3" y2="305.4" stroke="#1e1e1e" stroke-width="1.2"/>
<text x="47.1" y="308.1" font-size="7.2" text-anchor="end">0.5</text>
<line x1="49.8" y1="284.6" x2="53.3" y2="284.6" stroke="#1e1e1e" stroke-width="1.2"/>
<text x="47.1" y="287.3" font-size="7.2" text-anchor="end">1.0</text>
<line x1="49.8" y1="263.8" x2="53.3" y2="263.8" stroke="#1e1e1e" stroke-width="1.2"/>
<text x="47.1" y="266.5" font-size="7.2" text-anchor="end">1.5</text>
<line x1="52.7" y1="326.2" x2="153.8" y2="326.2" stroke="#1e1e1e" stroke-width="1.3"/>
<line x1="69.5" y1="326.2" x2="69.5" y2="329.7" stroke="#1e1e1e" stroke-width="1.2"/>
<line x1="104.7" y1="326.2" x2="104.7" y2="329.7" stroke="#1e1e1e" stroke-width="1.2"/>
<line x1="140" y1="326.2" x2="140" y2="329.7" stroke="#1e1e1e" stroke-width="1.2"/>
<polyline points="63.3,280.8 63.3,262.5 74.2,262.5 74.2,268.3" fill="none" stroke="#3a3a3a" stroke-width="1.15"/>
<polyline points="76.3,268.3 76.3,262.5 146.9,262.5 146.9,271.5" fill="none" stroke="#3a3a3a" stroke-width="1.15"/>
<polyline points="110.4,262.5 110.4,267.3" fill="none" stroke="#3a3a3a" stroke-width="1.15"/>
<polyline points="112,269.2 112,273" fill="none" stroke="#3a3a3a" stroke-width="1.15"/>
<circle cx="69.5" cy="258.5" r="1" fill="#1a1a1a"/>
<circle cx="110.4" cy="258.5" r="1" fill="#1a1a1a"/>
<circle cx="146.3" cy="258.5" r="1" fill="#1a1a1a"/>
<text x="98.7" y="232.7" font-size="9.8" text-anchor="middle" font-style="italic">NR3C1</text>
<text x="29.6" y="295.5" font-size="8.8" text-anchor="middle" transform="rotate(-90 29.6 295.5)" textLength="77.5" lengthAdjust="spacingAndGlyphs" class="at">Relative expression (AU)</text>
<text x="72.9" y="337.2" font-size="7.7" text-anchor="end" transform="rotate(-45 72.9 337.2)">NS</text>
<text x="108.1" y="337.2" font-size="7.3" text-anchor="end" font-style="italic" transform="rotate(-45 108.1 337.2)">shNR3C1_1</text>
<text x="143.4" y="337.2" font-size="7.3" text-anchor="end" font-style="italic" transform="rotate(-45 143.4 337.2)">shESRRB_1</text>
<rect x="212.25" y="311.7" width="6.9" height="14.5" fill="#2f4b80" stroke="#1b376e" stroke-width="0.8"/>
<rect x="223.65" y="271.7" width="6.9" height="54.5" fill="#a5002a" stroke="#96001f" stroke-width="0.8"/>
<line x1="227.1" y1="271.3" x2="227.1" y2="268.3" stroke="#222" stroke-width="1"/>
<line x1="224.6" y1="268.3" x2="229.6" y2="268.3" stroke="#222" stroke-width="1.3"/>
<rect x="247.75" y="312.4" width="6.9" height="13.8" fill="#2f4b80" stroke="#1b376e" stroke-width="0.8"/>
<line x1="251.2" y1="312" x2="251.2" y2="310" stroke="#222" stroke-width="1"/>
<line x1="248.7" y1="310" x2="253.7" y2="310" stroke="#222" stroke-width="1.3"/>
<rect x="259.15" y="304.9" width="6.9" height="21.3" fill="#a5002a" stroke="#96001f" stroke-width="0.8"/>
<line x1="262.6" y1="304.5" x2="262.6" y2="303.3" stroke="#222" stroke-width="1"/>
<line x1="260.1" y1="303.3" x2="265.1" y2="303.3" stroke="#222" stroke-width="1.3"/>
<rect x="283.05" y="310.4" width="6.9" height="15.8" fill="#2f4b80" stroke="#1b376e" stroke-width="0.8"/>
<line x1="286.5" y1="310" x2="286.5" y2="308.3" stroke="#222" stroke-width="1"/>
<line x1="284" y1="308.3" x2="289" y2="308.3" stroke="#222" stroke-width="1.3"/>
<rect x="294.45" y="297.2" width="6.9" height="29" fill="#a5002a" stroke="#96001f" stroke-width="0.8"/>
<line x1="297.9" y1="296.8" x2="297.9" y2="295.8" stroke="#222" stroke-width="1"/>
<line x1="295.4" y1="295.8" x2="300.4" y2="295.8" stroke="#222" stroke-width="1.3"/>
<line x1="205.8" y1="260.5" x2="205.8" y2="326.2" stroke="#1e1e1e" stroke-width="1.3"/>
<line x1="202.3" y1="326.2" x2="205.8" y2="326.2" stroke="#1e1e1e" stroke-width="1.2"/>
<text x="199.6" y="328.9" font-size="7.2" text-anchor="end">0</text>
<line x1="202.3" y1="310.65" x2="205.8" y2="310.65" stroke="#1e1e1e" stroke-width="1.2"/>
<text x="199.6" y="313.35" font-size="7.2" text-anchor="end">1</text>
<line x1="202.3" y1="295.1" x2="205.8" y2="295.1" stroke="#1e1e1e" stroke-width="1.2"/>
<text x="199.6" y="297.8" font-size="7.2" text-anchor="end">2</text>
<line x1="202.3" y1="279.55" x2="205.8" y2="279.55" stroke="#1e1e1e" stroke-width="1.2"/>
<text x="199.6" y="282.25" font-size="7.2" text-anchor="end">3</text>
<line x1="202.3" y1="264" x2="205.8" y2="264" stroke="#1e1e1e" stroke-width="1.2"/>
<text x="199.6" y="266.7" font-size="7.2" text-anchor="end">4</text>
<line x1="205.2" y1="326.2" x2="305.2" y2="326.2" stroke="#1e1e1e" stroke-width="1.3"/>
<line x1="221.4" y1="326.2" x2="221.4" y2="329.7" stroke="#1e1e1e" stroke-width="1.2"/>
<line x1="256.9" y1="326.2" x2="256.9" y2="329.7" stroke="#1e1e1e" stroke-width="1.2"/>
<line x1="292.2" y1="326.2" x2="292.2" y2="329.7" stroke="#1e1e1e" stroke-width="1.2"/>
<polyline points="214.3,276.3 214.3,260.8 225.5,260.8 225.5,265.5" fill="none" stroke="#3a3a3a" stroke-width="1.15"/>
<polyline points="227.5,265.5 227.5,260.8 296.8,260.8 296.8,270" fill="none" stroke="#3a3a3a" stroke-width="1.15"/>
<polyline points="260.5,260.8 260.5,270" fill="none" stroke="#3a3a3a" stroke-width="1.15"/>
<polyline points="251.3,307 251.3,296.3 263.3,296.3 263.3,302.5" fill="none" stroke="#3a3a3a" stroke-width="1.15"/>
<polyline points="286.3,306.3 286.3,289.3 297.5,289.3 297.5,293.8" fill="none" stroke="#3a3a3a" stroke-width="1.15"/>
<circle cx="218.12" cy="256" r="1" fill="#1a1a1a"/>
<circle cx="220.88" cy="256" r="1" fill="#1a1a1a"/>
<circle cx="259.12" cy="256" r="1" fill="#1a1a1a"/>
<circle cx="261.88" cy="256" r="1" fill="#1a1a1a"/>
<circle cx="296.8" cy="256" r="1" fill="#1a1a1a"/>
<circle cx="256.8" cy="292.1" r="1" fill="#1a1a1a"/>
<circle cx="291.8" cy="284.7" r="1" fill="#1a1a1a"/>
<text x="251" y="232.6" font-size="9.8" text-anchor="middle" font-style="italic">BCL2L11</text>
<text x="187.8" y="294.3" font-size="8.8" text-anchor="middle" transform="rotate(-90 187.8 294.3)" textLength="75.2" lengthAdjust="spacingAndGlyphs" class="at">Relative expression (AU)</text>
<text x="224.8" y="337.2" font-size="7.7" text-anchor="end" transform="rotate(-45 224.8 337.2)">NS</text>
<text x="260.3" y="337.2" font-size="7.3" text-anchor="end" font-style="italic" transform="rotate(-45 260.3 337.2)">shNR3C1_1</text>
<text x="295.6" y="337.2" font-size="7.3" text-anchor="end" font-style="italic" transform="rotate(-45 295.6 337.2)">shESRRB_1</text>
<rect x="362.2" y="319.52" width="7.4" height="6.68" fill="#2f4b80" stroke="#1b376e" stroke-width="0.8"/>
<line x1="365.9" y1="319.12" x2="365.9" y2="316.89" stroke="#222" stroke-width="1"/>
<line x1="363.6" y1="316.89" x2="368.2" y2="316.89" stroke="#222" stroke-width="1.3"/>
<rect x="374" y="262.95" width="7.4" height="63.25" fill="#a5002a" stroke="#96001f" stroke-width="0.8"/>
<line x1="377.7" y1="262.55" x2="377.7" y2="258.26" stroke="#222" stroke-width="1"/>
<line x1="375.4" y1="258.26" x2="380" y2="258.26" stroke="#222" stroke-width="1.3"/>
<rect x="397.9" y="318.55" width="7.4" height="7.65" fill="#2f4b80" stroke="#1b376e" stroke-width="0.8"/>
<line x1="401.6" y1="318.15" x2="401.6" y2="315.77" stroke="#222" stroke-width="1"/>
<line x1="399.3" y1="315.77" x2="403.9" y2="315.77" stroke="#222" stroke-width="1.3"/>
<rect x="409.7" y="292.94" width="7.4" height="33.26" fill="#a5002a" stroke="#96001f" stroke-width="0.8"/>
<line x1="413.4" y1="292.54" x2="413.4" y2="291.26" stroke="#222" stroke-width="1"/>
<line x1="411.1" y1="291.26" x2="415.7" y2="291.26" stroke="#222" stroke-width="1.3"/>
<rect x="433.5" y="319.52" width="7.4" height="6.68" fill="#2f4b80" stroke="#1b376e" stroke-width="0.8"/>
<rect x="445.3" y="280.09" width="7.4" height="46.11" fill="#a5002a" stroke="#96001f" stroke-width="0.8"/>
<line x1="449" y1="279.69" x2="449" y2="276.95" stroke="#222" stroke-width="1"/>
<line x1="446.7" y1="276.95" x2="451.3" y2="276.95" stroke="#222" stroke-width="1.3"/>
<rect x="357.2" y="305.6" width="100" height="5.6" fill="#ffffff"/>
<line x1="356.2" y1="241.9" x2="356.2" y2="305.4" stroke="#1e1e1e" stroke-width="1.3"/>
<line x1="356.2" y1="311.3" x2="356.2" y2="326.2" stroke="#1e1e1e" stroke-width="1.3"/>
<line x1="352.6" y1="305.4" x2="356.2" y2="305.4" stroke="#1e1e1e" stroke-width="1.2"/>
<text x="349.2" y="308.1" font-size="7.5" text-anchor="end">100</text>
<line x1="352.6" y1="296.83" x2="356.2" y2="296.83" stroke="#1e1e1e" stroke-width="1.2"/>
<text x="349.2" y="299.53" font-size="7.5" text-anchor="end">200</text>
<line x1="352.6" y1="288.26" x2="356.2" y2="288.26" stroke="#1e1e1e" stroke-width="1.2"/>
<text x="349.2" y="290.96" font-size="7.5" text-anchor="end">300</text>
<line x1="352.6" y1="279.69" x2="356.2" y2="279.69" stroke="#1e1e1e" stroke-width="1.2"/>
<text x="349.2" y="282.39" font-size="7.5" text-anchor="end">400</text>
<line x1="352.6" y1="271.12" x2="356.2" y2="271.12" stroke="#1e1e1e" stroke-width="1.2"/>
<text x="349.2" y="273.82" font-size="7.5" text-anchor="end">500</text>
<line x1="352.6" y1="262.55" x2="356.2" y2="262.55" stroke="#1e1e1e" stroke-width="1.2"/>
<text x="349.2" y="265.25" font-size="7.5" text-anchor="end">600</text>
<line x1="352.6" y1="253.98" x2="356.2" y2="253.98" stroke="#1e1e1e" stroke-width="1.2"/>
<text x="349.2" y="256.68" font-size="7.5" text-anchor="end">700</text>
<line x1="352.6" y1="245.41" x2="356.2" y2="245.41" stroke="#1e1e1e" stroke-width="1.2"/>
<text x="349.2" y="248.11" font-size="7.5" text-anchor="end">800</text>
<line x1="352.6" y1="326.2" x2="356.2" y2="326.2" stroke="#1e1e1e" stroke-width="1.2"/>
<text x="349.2" y="328.9" font-size="7.5" text-anchor="end">0</text>
<line x1="352.6" y1="318.75" x2="356.2" y2="318.75" stroke="#1e1e1e" stroke-width="1.2"/>
<text x="349.2" y="321.45" font-size="7.5" text-anchor="end">1</text>
<line x1="352.6" y1="311.3" x2="356.2" y2="311.3" stroke="#1e1e1e" stroke-width="1.2"/>
<text x="349.2" y="314" font-size="7.5" text-anchor="end">2</text>
<line x1="352.2" y1="305.4" x2="359.5" y2="305.4" stroke="#1e1e1e" stroke-width="1.2"/>
<line x1="352.2" y1="311.3" x2="359.5" y2="311.3" stroke="#1e1e1e" stroke-width="1.2"/>
<line x1="355.6" y1="326.2" x2="456.3" y2="326.2" stroke="#1e1e1e" stroke-width="1.3"/>
<line x1="371.8" y1="326.2" x2="371.8" y2="329.7" stroke="#1e1e1e" stroke-width="1.2"/>
<line x1="407.5" y1="326.2" x2="407.5" y2="329.7" stroke="#1e1e1e" stroke-width="1.2"/>
<line x1="443.1" y1="326.2" x2="443.1" y2="329.7" stroke="#1e1e1e" stroke-width="1.2"/>
<polyline points="364.2,266.8 364.2,249.3 375.5,249.3 375.5,255.3" fill="none" stroke="#3a3a3a" stroke-width="1.15"/>
<polyline points="377.3,255.3 377.3,249.3 447.5,249.3 447.5,258.5" fill="none" stroke="#3a3a3a" stroke-width="1.15"/>
<polyline points="410.8,249.3 410.8,259.9" fill="none" stroke="#3a3a3a" stroke-width="1.15"/>
<polyline points="401.1,305 401.1,285.3 411.2,285.3 411.2,288.5" fill="none" stroke="#3a3a3a" stroke-width="1.15"/>
<polyline points="435.7,305 435.7,272.4 448.2,272.4 448.2,275.4" fill="none" stroke="#3a3a3a" stroke-width="1.15"/>
<circle cx="367.82" cy="245.1" r="1" fill="#1a1a1a"/>
<circle cx="370.57" cy="245.1" r="1" fill="#1a1a1a"/>
<circle cx="409.43" cy="245.1" r="1" fill="#1a1a1a"/>
<circle cx="412.18" cy="245.1" r="1" fill="#1a1a1a"/>
<circle cx="447" cy="245.1" r="1" fill="#1a1a1a"/>
<circle cx="403.45" cy="282.9" r="1" fill="#1a1a1a"/>
<circle cx="406.2" cy="282.9" r="1" fill="#1a1a1a"/>
<circle cx="408.95" cy="282.9" r="1" fill="#1a1a1a"/>
<circle cx="438.75" cy="269.1" r="1" fill="#1a1a1a"/>
<circle cx="441.5" cy="269.1" r="1" fill="#1a1a1a"/>
<circle cx="444.25" cy="269.1" r="1" fill="#1a1a1a"/>
<text x="403.6" y="232.7" font-size="9.8" text-anchor="middle" font-style="italic">TSC22D3</text>
<text x="329.3" y="286.4" font-size="8.8" text-anchor="middle" transform="rotate(-90 329.3 286.4)" textLength="77.7" lengthAdjust="spacingAndGlyphs" class="at">Relative expression (AU)</text>
<text x="375.2" y="337.2" font-size="7.7" text-anchor="end" transform="rotate(-45 375.2 337.2)">NS</text>
<text x="410.9" y="337.2" font-size="7.3" text-anchor="end" font-style="italic" transform="rotate(-45 410.9 337.2)">shNR3C1_1</text>
<text x="446.5" y="337.2" font-size="7.3" text-anchor="end" font-style="italic" transform="rotate(-45 446.5 337.2)">shESRRB_1</text>
<rect x="480.2" y="278" width="6.1" height="3.8" fill="#2f4b80"/>
<text x="490" y="282.13" font-size="6.2">DMSO</text>
<rect x="480.2" y="286.2" width="6.1" height="3.8" fill="#a5002a"/>
<text x="490" y="290.33" font-size="6.2">Dex</text>
<rect x="58.93" y="659.7" width="7.95" height="34.2" fill="#2f4b80" stroke="#1b376e" stroke-width="0.8"/>
<rect x="71.93" y="645.4" width="7.95" height="48.5" fill="#a5002a" stroke="#96001f" stroke-width="0.8"/>
<line x1="75.9" y1="645" x2="75.9" y2="639.9" stroke="#222" stroke-width="1"/>
<line x1="73.2" y1="639.9" x2="78.6" y2="639.9" stroke="#222" stroke-width="1.3"/>
<rect x="94.12" y="677.3" width="7.95" height="16.6" fill="#2f4b80" stroke="#1b376e" stroke-width="0.8"/>
<line x1="98.1" y1="676.9" x2="98.1" y2="676.2" stroke="#222" stroke-width="1"/>
<line x1="95.4" y1="676.2" x2="100.8" y2="676.2" stroke="#222" stroke-width="1.3"/>
<rect x="107.12" y="674.7" width="7.95" height="19.2" fill="#a5002a" stroke="#96001f" stroke-width="0.8"/>
<line x1="111.1" y1="674.3" x2="111.1" y2="672.7" stroke="#222" stroke-width="1"/>
<line x1="108.4" y1="672.7" x2="113.8" y2="672.7" stroke="#222" stroke-width="1.3"/>
<rect x="129.43" y="665.7" width="7.95" height="28.2" fill="#2f4b80" stroke="#1b376e" stroke-width="0.8"/>
<line x1="133.4" y1="665.3" x2="133.4" y2="663.9" stroke="#222" stroke-width="1"/>
<line x1="130.7" y1="663.9" x2="136.1" y2="663.9" stroke="#222" stroke-width="1.3"/>
<rect x="142.43" y="663.9" width="7.95" height="30" fill="#a5002a" stroke="#96001f" stroke-width="0.8"/>
<line x1="146.4" y1="663.5" x2="146.4" y2="659.5" stroke="#222" stroke-width="1"/>
<line x1="143.7" y1="659.5" x2="149.1" y2="659.5" stroke="#222" stroke-width="1.3"/>
<line x1="54.3" y1="620.4" x2="54.3" y2="693.9" stroke="#1e1e1e" stroke-width="1.3"/>
<line x1="50.8" y1="693.9" x2="54.3" y2="693.9" stroke="#1e1e1e" stroke-width="1.2"/>
<text x="48.1" y="696.6" font-size="7.2" text-anchor="end">0.0</text>
<line x1="50.8" y1="676.48" x2="54.3" y2="676.48" stroke="#1e1e1e" stroke-width="1.2"/>
<text x="48.1" y="679.18" font-size="7.2" text-anchor="end">0.5</text>
<line x1="50.8" y1="659.05" x2="54.3" y2="659.05" stroke="#1e1e1e" stroke-width="1.2"/>
<text x="48.1" y="661.75" font-size="7.2" text-anchor="end">1.0</text>
<line x1="50.8" y1="641.62" x2="54.3" y2="641.62" stroke="#1e1e1e" stroke-width="1.2"/>
<text x="48.1" y="644.33" font-size="7.2" text-anchor="end">1.5</text>
<line x1="50.8" y1="624.2" x2="54.3" y2="624.2" stroke="#1e1e1e" stroke-width="1.2"/>
<text x="48.1" y="626.9" font-size="7.2" text-anchor="end">2.0</text>
<line x1="53.7" y1="693.9" x2="155.4" y2="693.9" stroke="#1e1e1e" stroke-width="1.3"/>
<line x1="69.4" y1="693.9" x2="69.4" y2="697.4" stroke="#1e1e1e" stroke-width="1.2"/>
<line x1="104.6" y1="693.9" x2="104.6" y2="697.4" stroke="#1e1e1e" stroke-width="1.2"/>
<line x1="139.9" y1="693.9" x2="139.9" y2="697.4" stroke="#1e1e1e" stroke-width="1.2"/>
<polyline points="60,647.6 60,634 73.2,634 75.1,636.8 77,634 145.7,634 145.7,640.4" fill="none" stroke="#3a3a3a" stroke-width="1.15"/>
<polyline points="108.3,633.5 108.3,640.4" fill="none" stroke="#3a3a3a" stroke-width="1.15"/>
<circle cx="67.7" cy="628.8" r="1" fill="#1a1a1a"/>
<circle cx="108.3" cy="628.8" r="1" fill="#1a1a1a"/>
<circle cx="145" cy="628.8" r="1" fill="#1a1a1a"/>
<text x="104.5" y="610.8" font-size="9.8" text-anchor="middle" font-style="italic">NR3C1</text>
<text x="29.9" y="660.3" font-size="8.8" text-anchor="middle" transform="rotate(-90 29.9 660.3)" textLength="77.3" lengthAdjust="spacingAndGlyphs" class="at">Relative expression (AU)</text>
<text x="72.8" y="704.9" font-size="7.7" text-anchor="end" transform="rotate(-45 72.8 704.9)">NS</text>
<text x="108" y="704.9" font-size="7.3" text-anchor="end" font-style="italic" transform="rotate(-45 108 704.9)">shNR3C1_1</text>
<text x="143.3" y="704.9" font-size="7.3" text-anchor="end" font-style="italic" transform="rotate(-45 143.3 704.9)">shESRRB_2</text>
<rect x="210.85" y="666.9" width="7.8" height="27" fill="#2f4b80" stroke="#1b376e" stroke-width="0.8"/>
<line x1="214.75" y1="666.5" x2="214.75" y2="665.8" stroke="#222" stroke-width="1"/>
<line x1="212.05" y1="665.8" x2="217.45" y2="665.8" stroke="#222" stroke-width="1.3"/>
<rect x="224.15" y="637.3" width="7.8" height="56.6" fill="#a5002a" stroke="#96001f" stroke-width="0.8"/>
<line x1="228.05" y1="636.9" x2="228.05" y2="630.7" stroke="#222" stroke-width="1"/>
<line x1="225.35" y1="630.7" x2="230.75" y2="630.7" stroke="#222" stroke-width="1.3"/>
<rect x="246.35" y="673.6" width="7.8" height="20.3" fill="#2f4b80" stroke="#1b376e" stroke-width="0.8"/>
<line x1="250.25" y1="673.2" x2="250.25" y2="670.4" stroke="#222" stroke-width="1"/>
<line x1="247.55" y1="670.4" x2="252.95" y2="670.4" stroke="#222" stroke-width="1.3"/>
<rect x="259.65" y="662.7" width="7.8" height="31.2" fill="#a5002a" stroke="#96001f" stroke-width="0.8"/>
<line x1="263.55" y1="662.3" x2="263.55" y2="659.3" stroke="#222" stroke-width="1"/>
<line x1="260.85" y1="659.3" x2="266.25" y2="659.3" stroke="#222" stroke-width="1.3"/>
<rect x="281.45" y="671.2" width="7.8" height="22.7" fill="#2f4b80" stroke="#1b376e" stroke-width="0.8"/>
<line x1="285.35" y1="670.8" x2="285.35" y2="668.1" stroke="#222" stroke-width="1"/>
<line x1="282.65" y1="668.1" x2="288.05" y2="668.1" stroke="#222" stroke-width="1.3"/>
<rect x="294.75" y="655.8" width="7.8" height="38.1" fill="#a5002a" stroke="#96001f" stroke-width="0.8"/>
<line x1="298.65" y1="655.4" x2="298.65" y2="650.8" stroke="#222" stroke-width="1"/>
<line x1="295.95" y1="650.8" x2="301.35" y2="650.8" stroke="#222" stroke-width="1.3"/>
<line x1="206.2" y1="620.4" x2="206.2" y2="693.9" stroke="#1e1e1e" stroke-width="1.3"/>
<line x1="202.7" y1="693.9" x2="206.2" y2="693.9" stroke="#1e1e1e" stroke-width="1.2"/>
<text x="200" y="696.6" font-size="7.2" text-anchor="end">0.0</text>
<line x1="202.7" y1="679.82" x2="206.2" y2="679.82" stroke="#1e1e1e" stroke-width="1.2"/>
<text x="200" y="682.52" font-size="7.2" text-anchor="end">0.5</text>
<line x1="202.7" y1="665.75" x2="206.2" y2="665.75" stroke="#1e1e1e" stroke-width="1.2"/>
<text x="200" y="668.45" font-size="7.2" text-anchor="end">1.0</text>
<line x1="202.7" y1="651.67" x2="206.2" y2="651.67" stroke="#1e1e1e" stroke-width="1.2"/>
<text x="200" y="654.38" font-size="7.2" text-anchor="end">1.5</text>
<line x1="202.7" y1="637.6" x2="206.2" y2="637.6" stroke="#1e1e1e" stroke-width="1.2"/>
<text x="200" y="640.3" font-size="7.2" text-anchor="end">2.0</text>
<line x1="202.7" y1="623.52" x2="206.2" y2="623.52" stroke="#1e1e1e" stroke-width="1.2"/>
<text x="200" y="626.23" font-size="7.2" text-anchor="end">2.5</text>
<line x1="205.6" y1="693.9" x2="306" y2="693.9" stroke="#1e1e1e" stroke-width="1.3"/>
<line x1="221.4" y1="693.9" x2="221.4" y2="697.4" stroke="#1e1e1e" stroke-width="1.2"/>
<line x1="256.9" y1="693.9" x2="256.9" y2="697.4" stroke="#1e1e1e" stroke-width="1.2"/>
<line x1="292" y1="693.9" x2="292" y2="697.4" stroke="#1e1e1e" stroke-width="1.2"/>
<polyline points="211.9,646.2 211.9,626.1 226.5,626.1 226.5,628.4" fill="none" stroke="#3a3a3a" stroke-width="1.15"/>
<polyline points="228.1,628.4 228.1,626.1 298.9,626.1 298.9,632.3" fill="none" stroke="#3a3a3a" stroke-width="1.15"/>
<polyline points="263.4,626.1 263.4,631.6" fill="none" stroke="#3a3a3a" stroke-width="1.15"/>
<polyline points="250.7,666.9 250.7,651.9 263.4,651.9 263.4,656.5" fill="none" stroke="#3a3a3a" stroke-width="1.15"/>
<polyline points="285.3,663.5 285.3,643.4 298.5,643.4 298.5,647.3" fill="none" stroke="#3a3a3a" stroke-width="1.15"/>
<circle cx="216.5" cy="621.9" r="1" fill="#1a1a1a"/>
<circle cx="263.4" cy="621.9" r="1" fill="#1a1a1a"/>
<circle cx="296.6" cy="621.9" r="1" fill="#1a1a1a"/>
<circle cx="256.9" cy="647.3" r="1" fill="#1a1a1a"/>
<circle cx="291.5" cy="638.3" r="1" fill="#1a1a1a"/>
<text x="256.8" y="610.8" font-size="9.8" text-anchor="middle" font-style="italic">BCL2L11</text>
<text x="181.9" y="660" font-size="8.8" text-anchor="middle" transform="rotate(-90 181.9 660)" textLength="78" lengthAdjust="spacingAndGlyphs" class="at">Relative expression (AU)</text>
<text x="224.8" y="704.9" font-size="7.7" text-anchor="end" transform="rotate(-45 224.8 704.9)">NS</text>
<text x="260.3" y="704.9" font-size="7.3" text-anchor="end" font-style="italic" transform="rotate(-45 260.3 704.9)">shNR3C1_1</text>
<text x="295.4" y="704.9" font-size="7.3" text-anchor="end" font-style="italic" transform="rotate(-45 295.4 704.9)">shESRRB_2</text>
<rect x="361.3" y="691.6" width="7.8" height="2.3" fill="#2f4b80" stroke="#1b376e" stroke-width="0.8"/>
<rect x="374.5" y="644.9" width="7.8" height="49" fill="#a5002a" stroke="#96001f" stroke-width="0.8"/>
<line x1="378.4" y1="644.5" x2="378.4" y2="639.9" stroke="#222" stroke-width="1"/>
<line x1="375.7" y1="639.9" x2="381.1" y2="639.9" stroke="#222" stroke-width="1.3"/>
<rect x="396.8" y="692" width="7.8" height="1.9" fill="#2f4b80" stroke="#1b376e" stroke-width="0.8"/>
<line x1="400.7" y1="691.6" x2="400.7" y2="690" stroke="#222" stroke-width="1"/>
<line x1="398" y1="690" x2="403.4" y2="690" stroke="#222" stroke-width="1.3"/>
<rect x="410" y="668.5" width="7.8" height="25.4" fill="#a5002a" stroke="#96001f" stroke-width="0.8"/>
<line x1="413.9" y1="668.1" x2="413.9" y2="664.6" stroke="#222" stroke-width="1"/>
<line x1="411.2" y1="664.6" x2="416.6" y2="664.6" stroke="#222" stroke-width="1.3"/>
<rect x="432.1" y="691.6" width="7.8" height="2.3" fill="#2f4b80" stroke="#1b376e" stroke-width="0.8"/>
<rect x="445.3" y="663.9" width="7.8" height="30" fill="#a5002a" stroke="#96001f" stroke-width="0.8"/>
<line x1="449.2" y1="663.5" x2="449.2" y2="661.2" stroke="#222" stroke-width="1"/>
<line x1="446.5" y1="661.2" x2="451.9" y2="661.2" stroke="#222" stroke-width="1.3"/>
<line x1="356.2" y1="620.4" x2="356.2" y2="693.9" stroke="#1e1e1e" stroke-width="1.3"/>
<line x1="352.7" y1="693.9" x2="356.2" y2="693.9" stroke="#1e1e1e" stroke-width="1.2"/>
<text x="350" y="696.6" font-size="7.2" text-anchor="end">0</text>
<line x1="352.7" y1="676.4" x2="356.2" y2="676.4" stroke="#1e1e1e" stroke-width="1.2"/>
<text x="350" y="679.1" font-size="7.2" text-anchor="end">5</text>
<line x1="352.7" y1="658.9" x2="356.2" y2="658.9" stroke="#1e1e1e" stroke-width="1.2"/>
<text x="350" y="661.6" font-size="7.2" text-anchor="end">10</text>
<line x1="352.7" y1="641.4" x2="356.2" y2="641.4" stroke="#1e1e1e" stroke-width="1.2"/>
<text x="350" y="644.1" font-size="7.2" text-anchor="end">15</text>
<line x1="352.7" y1="623.9" x2="356.2" y2="623.9" stroke="#1e1e1e" stroke-width="1.2"/>
<text x="350" y="626.6" font-size="7.2" text-anchor="end">20</text>
<line x1="355.6" y1="693.9" x2="457.8" y2="693.9" stroke="#1e1e1e" stroke-width="1.3"/>
<line x1="371.8" y1="693.9" x2="371.8" y2="697.4" stroke="#1e1e1e" stroke-width="1.2"/>
<line x1="407.3" y1="693.9" x2="407.3" y2="697.4" stroke="#1e1e1e" stroke-width="1.2"/>
<line x1="442.6" y1="693.9" x2="442.6" y2="697.4" stroke="#1e1e1e" stroke-width="1.2"/>
<polyline points="362.2,681.9 362.2,634.1 377.2,634.1 377.2,636.3" fill="none" stroke="#3a3a3a" stroke-width="1.15"/>
<polyline points="379.4,636.3 379.4,634.1 446.6,634.1 446.6,641.5" fill="none" stroke="#3a3a3a" stroke-width="1.15"/>
<polyline points="411.5,634.1 411.5,641.5" fill="none" stroke="#3a3a3a" stroke-width="1.15"/>
<polyline points="400.5,687 400.5,657 413.4,657 413.4,661.2" fill="none" stroke="#3a3a3a" stroke-width="1.15"/>
<polyline points="435.1,687 435.1,655.4 448,655.4 448,659.3" fill="none" stroke="#3a3a3a" stroke-width="1.15"/>
<circle cx="369.5" cy="628.8" r="1" fill="#1a1a1a"/>
<circle cx="411.5" cy="628.8" r="1" fill="#1a1a1a"/>
<circle cx="445.5" cy="628.8" r="1" fill="#1a1a1a"/>
<circle cx="406.9" cy="652.1" r="1" fill="#1a1a1a"/>
<circle cx="442.2" cy="650.7" r="1" fill="#1a1a1a"/>
<text x="407.6" y="610.8" font-size="9.8" text-anchor="middle" font-style="italic">TSC22D3</text>
<text x="334.1" y="660" font-size="8.8" text-anchor="middle" transform="rotate(-90 334.1 660)" textLength="78" lengthAdjust="spacingAndGlyphs" class="at">Relative expression (AU)</text>
<text x="375.2" y="704.9" font-size="7.7" text-anchor="end" transform="rotate(-45 375.2 704.9)">NS</text>
<text x="410.7" y="704.9" font-size="7.3" text-anchor="end" font-style="italic" transform="rotate(-45 410.7 704.9)">shNR3C1_1</text>
<text x="446" y="704.9" font-size="7.3" text-anchor="end" font-style="italic" transform="rotate(-45 446 704.9)">shESRRB_2</text>
<rect x="479.7" y="649.95" width="7.2" height="4.3" fill="#2f4b80"/>
<text x="490.8" y="654.4" font-size="6.4">DMSO</text>
<rect x="479.7" y="659.95" width="7.2" height="4.3" fill="#a5002a"/>
<text x="490.8" y="664.4" font-size="6.4">Dex</text>
</svg>
</body></html>
